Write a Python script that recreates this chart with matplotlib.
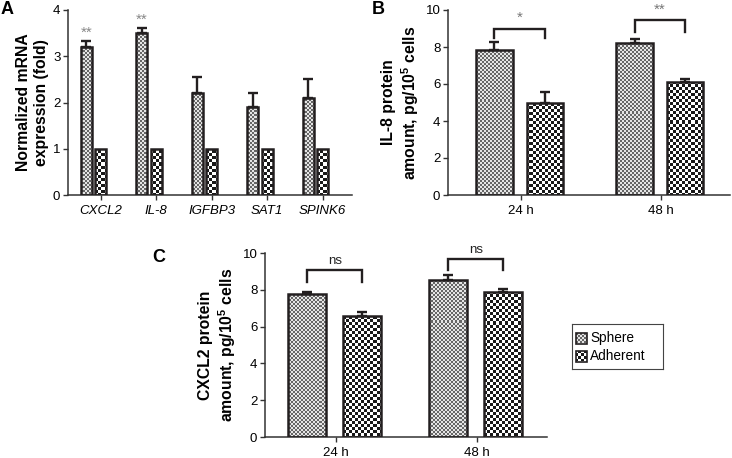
import numpy as np
import matplotlib
matplotlib.use("Agg")
import matplotlib.pyplot as plt

plt.rcParams['font.family'] = ['Liberation Sans', 'DejaVu Sans']
plt.rcParams['mathtext.fontset'] = 'custom'
plt.rcParams['mathtext.rm'] = 'Liberation Sans'
plt.rcParams['mathtext.bf'] = 'Liberation Sans:bold'

# panel A: normalized mRNA expression
genes = ['CXCL2', 'IL-8', 'IGFBP3', 'SAT1', 'SPINK6']
mrna_sphere = [3.2, 3.5, 2.2, 1.9, 2.1]
mrna_sphere_err = [0.13, 0.11, 0.35, 0.3, 0.4]
mrna_adherent = [1.0, 1.0, 1.0, 1.0, 1.0]
mrna_stars = ['**', '**', '', '', '']

# panels B and C: protein amounts
times = ['24 h', '48 h']
il8_sphere = [7.85, 8.22]
il8_sphere_err = [0.4, 0.22]
il8_adherent = [5.0, 6.12]
il8_adherent_err = [0.55, 0.15]
il8_sig = ['*', '**']

cxcl2_sphere = [7.75, 8.55]
cxcl2_sphere_err = [0.12, 0.28]
cxcl2_adherent = [6.55, 7.9]
cxcl2_adherent_err = [0.27, 0.17]
cxcl2_sig = ['ns', 'ns']

W, H = 732, 458
EDGE = '#231f20'
fig = plt.figure(figsize=(W / 100, H / 100), dpi=100)


def checker(ax, patch, cell, dark, light):
    # fill a bar with a checker texture clipped to the bar outline
    pos = ax.get_position()
    w, h = int(pos.width * W), int(pos.height * H)
    yy, xx = np.mgrid[0:h, 0:w]
    chk = ((xx // cell + yy // cell) % 2).astype(bool)
    img = np.where(chk[..., None], np.array(dark), np.array(light))
    im = ax.imshow(img, extent=[0, 1, 0, 1], transform=ax.transAxes,
                   interpolation='nearest', aspect='auto', zorder=2)
    im.set_clip_path(patch)


SPHERE = dict(cell=2, dark=(0.4, 0.4, 0.4), light=(0.9, 0.9, 0.9))
ADHER = dict(cell=3, dark=(0.1, 0.1, 0.1), light=(1.0, 1.0, 1.0))


def bars(ax, x, vals, errs, width, tex):
    bc = ax.bar(x, vals, width, facecolor='none', edgecolor=EDGE, lw=1.8, zorder=3)
    for p in bc.patches:
        checker(ax, p, **tex)
    if errs is not None:
        ax.errorbar(x, vals, yerr=[np.zeros(len(vals)), errs], fmt='none',
                    ecolor=EDGE, elinewidth=1.7, capsize=3.8, capthick=1.7, zorder=2.5)


def style(ax):
    for s in ['top', 'right']:
        ax.spines[s].set_visible(False)
    for s in ['left', 'bottom']:
        ax.spines[s].set_linewidth(1.1)
        ax.spines[s].set_color('#333333')
    ax.tick_params(direction='out', length=3.5, width=1, color='#333333',
                   labelsize=9.5, pad=2)
    ax.tick_params(axis='x', pad=4)


def bracket(ax, x1, x2, y_top, y_leg, label, color, size):
    ax.plot([x1, x1, x2, x2], [y_leg, y_top, y_top, y_leg], color=EDGE, lw=1.7,
            solid_joinstyle='miter', clip_on=False, zorder=4)
    ax.text((x1 + x2) / 2, y_top + 0.2, label, ha='center', va='bottom',
            fontsize=size, color=color, clip_on=False)


# ---------- panel A ----------
axA = fig.add_axes([68 / W, (H - 195) / H, 284 / W, 185 / H])
xa = np.arange(len(genes))
bars(axA, xa - 0.26, mrna_sphere, mrna_sphere_err, 0.2, SPHERE)
bars(axA, xa, mrna_adherent, None, 0.2, ADHER)
for i, s in enumerate(mrna_stars):
    if s:
        axA.text(xa[i] - 0.26, mrna_sphere[i] + mrna_sphere_err[i] + 0.02, s,
                 ha='center', va='bottom', fontsize=11, color='#888888')
axA.set_xlim(-0.588, 4.53)
axA.set_ylim(0, 4)
axA.set_yticks([0, 1, 2, 3, 4])
axA.set_xticks(xa)
axA.set_xticklabels(genes, style='italic')
axA.set_ylabel('Normalized mRNA\nexpression (fold)', fontsize=11.3,
               fontweight='bold', labelpad=3)
style(axA)

# ---------- panel B ----------
axB = fig.add_axes([448 / W, (H - 195) / H, 282 / W, 185 / H])
xb = np.arange(len(times))
bars(axB, xb - 0.19, il8_sphere, il8_sphere_err, 0.26, SPHERE)
bars(axB, xb + 0.17, il8_adherent, il8_adherent_err, 0.26, ADHER)
b_levels = [(9.0, 8.5), (9.45, 8.8)]
for i, s in enumerate(il8_sig):
    bracket(axB, xb[i] - 0.19, xb[i] + 0.17, b_levels[i][0], b_levels[i][1],
            s, '#777777', 11)
axB.set_xlim(-0.52, 1.49)
axB.set_ylim(0, 10)
axB.set_yticks([0, 2, 4, 6, 8, 10])
axB.set_xticks(xb)
axB.set_xticklabels(times)
axB.set_ylabel('IL-8 protein\namount, pg/10$^{\\mathbf{5}}$ cells', fontsize=11.3,
               fontweight='bold', labelpad=3)
style(axB)

# ---------- panel C ----------
axC = fig.add_axes([265 / W, (H - 437) / H, 282 / W, 184 / H])
bars(axC, xb - 0.2, cxcl2_sphere, cxcl2_sphere_err, 0.27, SPHERE)
bars(axC, xb + 0.19, cxcl2_adherent, cxcl2_adherent_err, 0.27, ADHER)
c_levels = [(9.05, 8.4), (9.65, 9.05)]
for i, s in enumerate(cxcl2_sig):
    bracket(axC, xb[i] - 0.2, xb[i] + 0.19, c_levels[i][0], c_levels[i][1],
            s, '#222222', 9.5)
axC.set_xlim(-0.5, 1.5)
axC.set_ylim(0, 10)
axC.set_yticks([0, 2, 4, 6, 8, 10])
axC.set_xticks(xb)
axC.set_xticklabels(times)
axC.set_ylabel('CXCL2 protein\namount, pg/10$^{\\mathbf{5}}$ cells', fontsize=11.3,
               fontweight='bold', labelpad=3)
style(axC)

# ---------- legend ----------
axL = fig.add_axes([572 / W, (H - 369) / H, 91 / W, 45 / H])
axL.set_xticks([])
axL.set_yticks([])
for s in axL.spines.values():
    s.set_linewidth(0.8)
    s.set_color('#444444')
for k, (name, tex) in enumerate([('Sphere', SPHERE), ('Adherent', ADHER)]):
    yc = 14 + k * 18
    sq = plt.Rectangle((4, yc - 5.5), 11, 11, facecolor='none', edgecolor=EDGE,
                       lw=1.2, zorder=3)
    axL.add_patch(sq)
    checker(axL, sq, **tex)
    axL.text(18, yc, name, va='center', ha='left', fontsize=9.8)
axL.set_xlim(0, 91)
axL.set_ylim(45, 0)

# panel letters
fig.text(1 / W, 1 - 1 / H, 'A', fontsize=13, fontweight='bold', va='top')
fig.text(372 / W, 1 - 1 / H, 'B', fontsize=13, fontweight='bold', va='top')
fig.text(152 / W, 1 - 249 / H, 'C', fontsize=13, fontweight='bold', va='top')

fig.savefig('out.png', dpi=100)
